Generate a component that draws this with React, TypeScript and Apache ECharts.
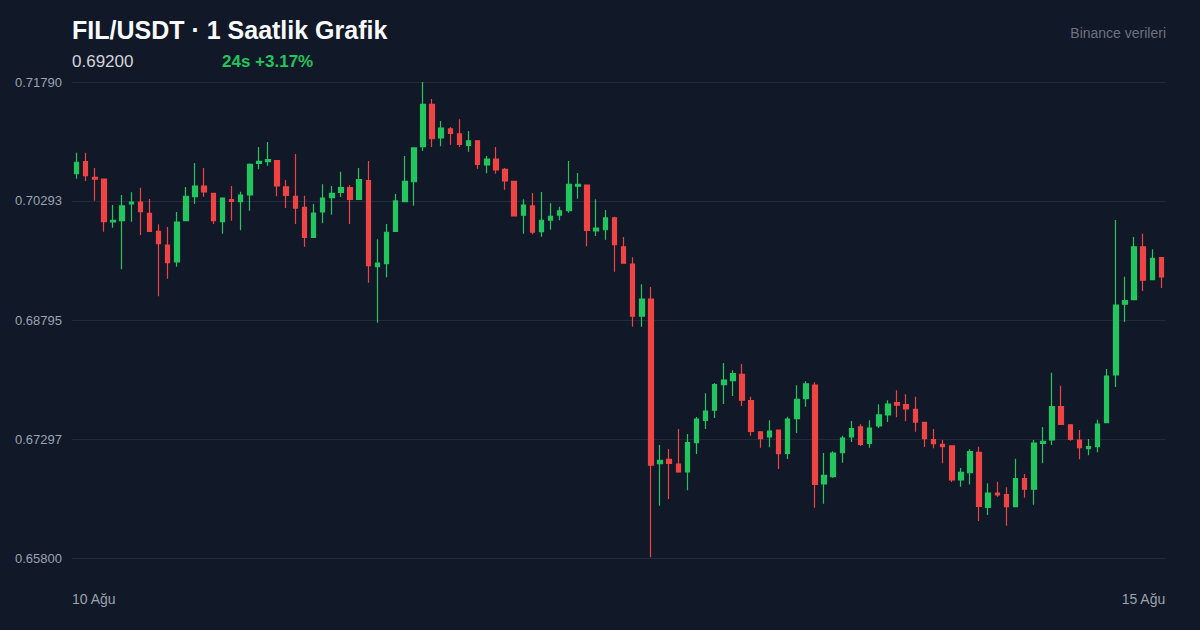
import React, { useEffect, useRef } from "react";
import * as echarts from "echarts";

// OHLC values for 120 hourly candles (10 Ağu -> 15 Ağu)
const opens = [
  0.70636, 0.70787, 0.70591, 0.70569, 0.70028, 0.70045, 0.70255, 0.70280, 0.70138, 0.69911,
  0.69739, 0.69525, 0.70045, 0.70347, 0.70481, 0.70389, 0.70032, 0.70309, 0.70284, 0.70368,
  0.70767, 0.70787, 0.70800, 0.70469, 0.70352, 0.70213, 0.69836, 0.70154, 0.70334, 0.70402,
  0.70460, 0.70314, 0.70548, 0.69466, 0.69504, 0.69911, 0.70284, 0.70535, 0.70976, 0.71509,
  0.71085, 0.71199, 0.71136, 0.70993, 0.71051, 0.70746, 0.70821, 0.70691, 0.70540, 0.70113,
  0.70230, 0.69906, 0.70053, 0.70116, 0.70170, 0.70478, 0.70494, 0.69915, 0.69931, 0.70079,
  0.69717, 0.69500, 0.68845, 0.69059, 0.66987, 0.67042, 0.66983, 0.66882, 0.67251, 0.67533,
  0.67662, 0.67981, 0.68031, 0.68112, 0.67780, 0.67389, 0.67323, 0.67411, 0.67115, 0.67553,
  0.67805, 0.67977, 0.66731, 0.66823, 0.67125, 0.67323, 0.67449, 0.67243, 0.67461, 0.67600,
  0.67754, 0.67729, 0.67671, 0.67508, 0.67289, 0.67231, 0.67210, 0.66782, 0.66873, 0.67128,
  0.66438, 0.66618, 0.66597, 0.66446, 0.66798, 0.66665, 0.67243, 0.67285, 0.67704, 0.67477,
  0.67285, 0.67176, 0.67201, 0.67503, 0.68103, 0.68993, 0.69051, 0.69717, 0.69302, 0.69579,
];
const closes = [
  0.70780, 0.70611, 0.70569, 0.70032, 0.70050, 0.70230, 0.70280, 0.70158, 0.69911, 0.69755,
  0.69516, 0.70028, 0.70352, 0.70481, 0.70406, 0.70045, 0.70330, 0.70289, 0.70368, 0.70754,
  0.70792, 0.70812, 0.70481, 0.70364, 0.70204, 0.69836, 0.70141, 0.70330, 0.70389, 0.70460,
  0.70314, 0.70561, 0.69478, 0.69512, 0.69899, 0.70293, 0.70540, 0.70960, 0.71509, 0.71076,
  0.71211, 0.71144, 0.71006, 0.71048, 0.70754, 0.70821, 0.70683, 0.70544, 0.70104, 0.70242,
  0.69902, 0.70050, 0.70100, 0.70170, 0.70503, 0.70503, 0.69924, 0.69953, 0.70079, 0.69743,
  0.69509, 0.68845, 0.69059, 0.66967, 0.67030, 0.66992, 0.66882, 0.67251, 0.67549, 0.67650,
  0.67981, 0.68040, 0.68119, 0.67785, 0.67394, 0.67301, 0.67398, 0.67113, 0.67549, 0.67798,
  0.67990, 0.66727, 0.66841, 0.67121, 0.67310, 0.67427, 0.67231, 0.67436, 0.67600, 0.67738,
  0.67725, 0.67675, 0.67511, 0.67301, 0.67238, 0.67201, 0.66782, 0.66879, 0.67138, 0.66448,
  0.66618, 0.66593, 0.66446, 0.66798, 0.66665, 0.67247, 0.67269, 0.67704, 0.67482, 0.67294,
  0.67188, 0.67201, 0.67486, 0.68090, 0.68984, 0.69038, 0.69717, 0.69295, 0.69571, 0.69336,
];
const lows = [
  0.70573, 0.70544, 0.70296, 0.69906, 0.69957, 0.69433, 0.70032, 0.69865, 0.69902, 0.69093,
  0.69315, 0.69466, 0.70045, 0.70255, 0.70347, 0.70003, 0.69881, 0.70045, 0.69924, 0.70170,
  0.70691, 0.70737, 0.70352, 0.70204, 0.70003, 0.69717, 0.69836, 0.70012, 0.70120, 0.70343,
  0.70003, 0.70314, 0.69264, 0.68761, 0.69332, 0.69911, 0.70284, 0.70233, 0.70922, 0.70972,
  0.70981, 0.71001, 0.70972, 0.70913, 0.70699, 0.70641, 0.70636, 0.70435, 0.70104, 0.69881,
  0.69874, 0.69843, 0.69931, 0.70050, 0.70145, 0.70321, 0.69722, 0.69852, 0.69806, 0.69403,
  0.69509, 0.68711, 0.68711, 0.65809, 0.66458, 0.66543, 0.66873, 0.66652, 0.67109, 0.67423,
  0.67562, 0.67738, 0.67839, 0.67713, 0.67339, 0.67188, 0.67193, 0.66920, 0.67046, 0.67373,
  0.67704, 0.66433, 0.66483, 0.66811, 0.66999, 0.67260, 0.67209, 0.67188, 0.67436, 0.67511,
  0.67571, 0.67520, 0.67389, 0.67197, 0.67180, 0.66992, 0.66756, 0.66697, 0.66725, 0.66266,
  0.66341, 0.66571, 0.66207, 0.66438, 0.66559, 0.66471, 0.66992, 0.67222, 0.67482, 0.67276,
  0.67042, 0.67092, 0.67130, 0.67503, 0.67952, 0.68770, 0.69051, 0.69160, 0.69302, 0.69198,
];
const highs = [
  0.70900, 0.70900, 0.70708, 0.70575, 0.70242, 0.70368, 0.70402, 0.70460, 0.70318, 0.69999,
  0.69965, 0.70154, 0.70469, 0.70771, 0.70708, 0.70395, 0.70339, 0.70481, 0.70410, 0.70764,
  0.70972, 0.71035, 0.70808, 0.70557, 0.70884, 0.70359, 0.70255, 0.70503, 0.70481, 0.70661,
  0.70490, 0.70708, 0.70796, 0.69811, 0.70003, 0.70381, 0.70859, 0.70968, 0.71790, 0.71576,
  0.71299, 0.71220, 0.71321, 0.71173, 0.71056, 0.70859, 0.70972, 0.70708, 0.70544, 0.70314,
  0.70393, 0.70406, 0.70264, 0.70221, 0.70796, 0.70645, 0.70498, 0.70314, 0.70179, 0.70095,
  0.69840, 0.69584, 0.69244, 0.69210, 0.67222, 0.67172, 0.67423, 0.67360, 0.67574, 0.67873,
  0.68002, 0.68254, 0.68162, 0.68241, 0.67830, 0.67394, 0.67533, 0.67411, 0.67578, 0.67973,
  0.68024, 0.68011, 0.67121, 0.67143, 0.67339, 0.67524, 0.67482, 0.67533, 0.67734, 0.67785,
  0.67910, 0.67860, 0.67830, 0.67511, 0.67423, 0.67285, 0.67210, 0.66933, 0.67169, 0.67199,
  0.66740, 0.66760, 0.66690, 0.67050, 0.66857, 0.67285, 0.67449, 0.68132, 0.67968, 0.67486,
  0.67411, 0.67298, 0.67540, 0.68178, 0.70053, 0.69340, 0.69840, 0.69881, 0.69685, 0.69584,
];

const yTicks = [0.658, 0.67297, 0.68795, 0.70293, 0.7179];
const dateLabels = ["10 Ağu", "15 Ağu"];
const titleText = "FIL/USDT · 1 Saatlik Grafik";
const priceText = "0.69200";
const changeText = "24s +3.17%";
const sourceText = "Binance verileri";

const FONT = "'Liberation Sans', Arial, Helvetica, sans-serif";

export default function App() {
  const ref = useRef<HTMLDivElement>(null);

  useEffect(() => {
    if (!ref.current) return;
    const chart = echarts.init(ref.current, undefined, { renderer: "svg" });
    const categories = opens.map((_, i) => String(i));
    const data = opens.map((o, i) => [o, closes[i], lows[i], highs[i]]);

    chart.setOption({
      animation: false,
      backgroundColor: "#111827",
      textStyle: { fontFamily: FONT },
      title: {
        text: titleText,
        left: 72,
        top: 17,
        padding: 0,
        textStyle: { color: "#f9fafb", fontSize: 25, fontWeight: "bold", fontFamily: FONT },
      },
      graphic: [
        {
          type: "text",
          left: 72,
          top: 53,
          style: { text: priceText, fill: "#d1d5db", fontSize: 17, fontFamily: FONT },
        },
        {
          type: "text",
          left: 222,
          top: 53,
          style: { text: changeText, fill: "#22c55e", fontSize: 17, fontWeight: "bold", fontFamily: FONT },
        },
        {
          type: "text",
          right: 34,
          top: 26,
          style: { text: sourceText, fill: "#6b7280", fontSize: 14, fontFamily: FONT },
        },
        {
          type: "text",
          left: 72,
          top: 592,
          style: { text: dateLabels[0], fill: "#9ca3af", fontSize: 14, fontFamily: FONT },
        },
        {
          type: "text",
          right: 34,
          top: 592,
          style: { text: dateLabels[1], fill: "#9ca3af", fontSize: 14, fontFamily: FONT },
        },
      ],
      grid: { left: 72, right: 34, top: 82, bottom: 72, containLabel: false },
      xAxis: {
        type: "category",
        data: categories,
        boundaryGap: true,
        axisLine: { show: false },
        axisTick: { show: false },
        axisLabel: { show: false },
        splitLine: { show: false },
      },
      yAxis: {
        type: "value",
        min: 0.658,
        max: 0.7179,
        axisLine: { show: false },
        axisTick: { show: false, customValues: yTicks },
        axisLabel: {
          customValues: yTicks,
          color: "#9ca3af",
          fontSize: 13,
          margin: 10,
          fontFamily: FONT,
          formatter: (v: number) => v.toFixed(5),
        },
        splitLine: { show: true, lineStyle: { color: "#222b3a", width: 1 } },
      },
      series: [
        {
          type: "candlestick",
          data,
          barWidth: 5,
          itemStyle: {
            color: "#22c55e",
            color0: "#ef4444",
            borderColor: "#22c55e",
            borderColor0: "#ef4444",
            borderWidth: 1.2,
          },
        },
      ],
    });

    return () => chart.dispose();
  }, []);

  return (
    <div
      ref={ref}
      style={{ position: "fixed", left: 0, top: 0, width: 1200, height: 630 }}
    />
  );
}
